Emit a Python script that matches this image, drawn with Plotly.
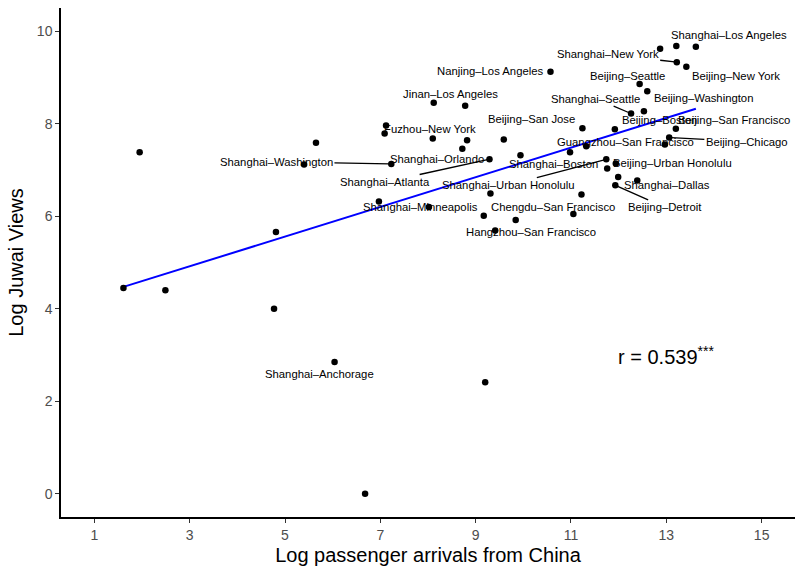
import numpy as np
import plotly.graph_objects as go

# ---- data ----
log_arrivals = [1.61, 1.95, 2.49, 4.81, 4.77, 5.40, 5.65, 6.04, 6.68, 6.97,
                7.12, 7.09, 7.23, 8.02, 8.12, 8.10, 8.78, 8.82, 8.72, 9.17,
                9.29, 9.31, 9.20, 9.41, 9.59, 9.84, 9.94, 10.57, 10.98, 11.05,
                11.22, 11.24, 11.32, 11.74, 11.76, 11.92, 11.94, 11.99, 11.93, 12.39,
                12.26, 12.53, 12.44, 12.60, 12.87, 13.21, 13.62, 13.22, 13.42, 13.20,
                13.06, 12.97]
log_views = [4.45, 7.38, 4.40, 5.66, 4.00, 7.12, 7.59, 2.85, 0.00, 6.32,
             7.96, 7.79, 7.13, 6.20, 8.45, 7.68, 8.39, 7.64, 7.46, 6.01,
             7.23, 6.49, 2.41, 5.69, 7.66, 5.92, 7.32, 9.12, 7.38, 6.05,
             6.47, 7.90, 7.51, 7.23, 7.03, 7.88, 7.14, 6.85, 6.67, 6.77,
             8.22, 8.27, 8.86, 8.70, 9.62, 9.68, 9.66, 9.33, 9.23, 7.89,
             7.70, 7.55]

route_names = ["Shanghai–Los Angeles", "Shanghai–New York", "Beijing–New York",
               "Nanjing–Los Angeles", "Beijing–Seattle", "Beijing–Washington",
               "Shanghai–Seattle", "Jinan–Los Angeles", "Beijing–San Jose",
               "Beijing–Boston", "Beijing–San Francisco", "Fuzhou–New York",
               "Guangzhou–San Francisco", "Beijing–Chicago", "Shanghai–Orlando",
               "Shanghai–Washington", "Shanghai–Boston", "Beijing–Urban Honolulu",
               "Shanghai–Atlanta", "Shanghai–Urban Honolulu", "Shanghai–Dallas",
               "Beijing–Detroit", "Shanghai–Minneapolis", "Chengdu–San Francisco",
               "Hangzhou–San Francisco", "Shanghai–Anchorage"]
route_point = [46, 47, 48, 27, 42, 43, 40, 14, 31, 41, 49, 10, 35, 50, 18,
               12, 28, 36, 20, 33, 39, 38, 13, 29, 23, 7]

r_text = "r = 0.539<sup>***</sup>"
x_ticks = [1, 3, 5, 7, 9, 11, 13, 15]
y_ticks = [0, 2, 4, 6, 8, 10]

# ---- layout of the repelled labels (label centres, data units) ----
label_x = [14.32, 11.77, 14.47, 9.31, 12.18, 13.77, 11.52, 8.47, 10.17, 12.85,
           14.41, 8.05, 12.14, 14.69, 8.18, 4.82, 10.63, 13.13, 7.10, 9.69,
           13.02, 12.97, 7.84, 10.62, 10.17, 5.72]
label_y = [9.92, 9.50, 9.04, 9.14, 9.02, 8.56, 8.54, 8.65, 8.10, 8.07,
           8.09, 7.88, 7.61, 7.61, 7.23, 7.18, 7.13, 7.14, 6.74, 6.67,
           6.67, 6.19, 6.19, 6.19, 5.65, 2.60]
label_segment = [False, True, False, False, False, False, True, False, False, False,
                 False, False, False, True, False, True, False, False, True, True,
                 False, True, False, False, False, False]

xa = np.array(log_arrivals)
ya = np.array(log_views)
slope, intercept = np.polyfit(xa, ya, 1)
fit_x = np.array([xa.min(), xa.max()])
fit_y = intercept + slope * fit_x

FONT = "Liberation Sans, Arial, sans-serif"

fig = go.Figure()
fig.add_trace(go.Scatter(x=fit_x, y=fit_y, mode="lines",
                         line=dict(color="#0000FF", width=2), hoverinfo="skip",
                         showlegend=False))
fig.add_trace(go.Scatter(x=log_arrivals, y=log_views, mode="markers",
                         marker=dict(color="black", size=6.5), showlegend=False))

annotations = []
for name, idx, lx, ly, seg in zip(route_names, route_point, label_x, label_y, label_segment):
    fsize = 11.3
    if seg:
        annotations.append(dict(x=log_arrivals[idx], y=log_views[idx], xref="x", yref="y",
                                ax=lx, ay=ly, axref="x", ayref="y", text=name,
                                showarrow=True, arrowhead=0, arrowwidth=1.3,
                                arrowcolor="black", standoff=2,
                                font=dict(family=FONT, size=fsize, color="black")))
    else:
        annotations.append(dict(x=lx, y=ly, xref="x", yref="y", text=name,
                                showarrow=False,
                                font=dict(family=FONT, size=fsize, color="black")))

annotations.append(dict(x=13.0, y=3.0, xref="x", yref="y", text=r_text, showarrow=False,
                        font=dict(family=FONT, size=20, color="black")))

fig.update_layout(
    width=795, height=566,
    margin=dict(l=61, r=0.4, t=7.5, b=48.5),
    paper_bgcolor="white", plot_bgcolor="white",
    annotations=annotations,
    font=dict(family=FONT),
    xaxis=dict(range=[0.3, 15.7], tickvals=x_ticks, showgrid=False, zeroline=False,
               showline=True, linecolor="black", linewidth=1.5,
               ticks="outside", ticklen=4, tickwidth=1.2, tickcolor="#333333",
               tickfont=dict(family=FONT, size=14, color="#4D4D4D"),
               title=dict(text="Log passenger arrivals from China",
                          font=dict(family=FONT, size=20, color="black"), standoff=7)),
    yaxis=dict(range=[-0.5, 10.5], tickvals=y_ticks, showgrid=False, zeroline=False,
               showline=True, linecolor="black", linewidth=1.5,
               ticks="outside", ticklen=4, tickwidth=1.2, tickcolor="#333333",
               tickfont=dict(family=FONT, size=14, color="#4D4D4D"),
               title=dict(text="Log Juwai Views",
                          font=dict(family=FONT, size=20, color="black"), standoff=8)),
)

fig.write_html("out.html")
